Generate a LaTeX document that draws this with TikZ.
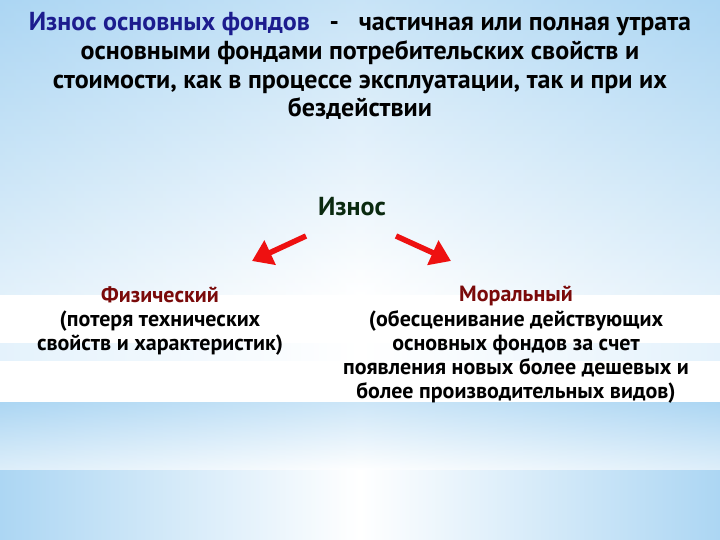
\documentclass[tikz,border=0pt]{standalone}
\usepackage{fontspec}
\setmainfont{PT Sans}
\usetikzlibrary{arrows.meta,positioning}
\definecolor{skyblue}{HTML}{ACD6F3}
\definecolor{paleblue}{HTML}{E4F2FC}
\definecolor{titleblue}{HTML}{1C1C8E}
\definecolor{darkred}{HTML}{7A0A0A}
\definecolor{darkgreen}{HTML}{0B2A10}
\definecolor{arrowred}{HTML}{EE1111}
\begin{document}
\begin{tikzpicture}[x=1pt,y=-1pt,
    txt/.style={font=\fontsize{22}{24.3}\selectfont\bfseries,align=center,inner sep=0pt},
    head/.style={txt,font=\fontsize{26}{28.8}\selectfont\bfseries},
    redarrow/.style={draw=arrowred,line width=5.5pt,-{Triangle[length=20pt,width=26pt]}}]
    \useasboundingbox (0,0) rectangle (720,540);
    % background
    \fill[top color=skyblue,bottom color=white] (0,0) rectangle (720,295);
    \shade[left color=skyblue,right color=skyblue,middle color=white,opacity=.35] (0,0) rectangle (720,295);
    \fill[white] (0,295) rectangle (720,400);
    \fill[left color=paleblue,right color=paleblue,middle color=white] (0,343) rectangle (720,360);
    \fill[top color=skyblue,bottom color=white] (0,402) rectangle (720,470);
    \shade[left color=skyblue,right color=skyblue,middle color=white,opacity=.4] (0,402) rectangle (720,470);
    \fill[left color=skyblue,right color=skyblue,middle color=white] (0,470) rectangle (720,540);
    % texts
    \node[head] (title) at (360,66) {{\color{titleblue}Износ основных фондов}\ \ \ -\ \ \ частичная или полная утрата\\
        основными фондами потребительских свойств и\\
        стоимости, как в процессе эксплуатации, так и при их\\
        бездействии};
    \node[head,text=darkgreen] (iznos) at (352,207) {Износ};
    \node[txt] (phys) at (160,321) {{\color{darkred}Физический}\\(потеря технических\\свойств и характеристик)};
    \node[txt] (moral) at (516,345) {{\color{darkred}Моральный}\\(обесценивание действующих\\основных фондов за счет\\появления новых более дешевых и\\более производительных видов)};
    % arrows
    \coordinate (la) at (306,236);
    \coordinate (lb) at (252,261);
    \coordinate (ra) at (396,236);
    \coordinate (rb) at (451,261);
    \draw[redarrow] (la) -- (lb);
    \draw[redarrow] (ra) -- (rb);
\end{tikzpicture}
\end{document}
